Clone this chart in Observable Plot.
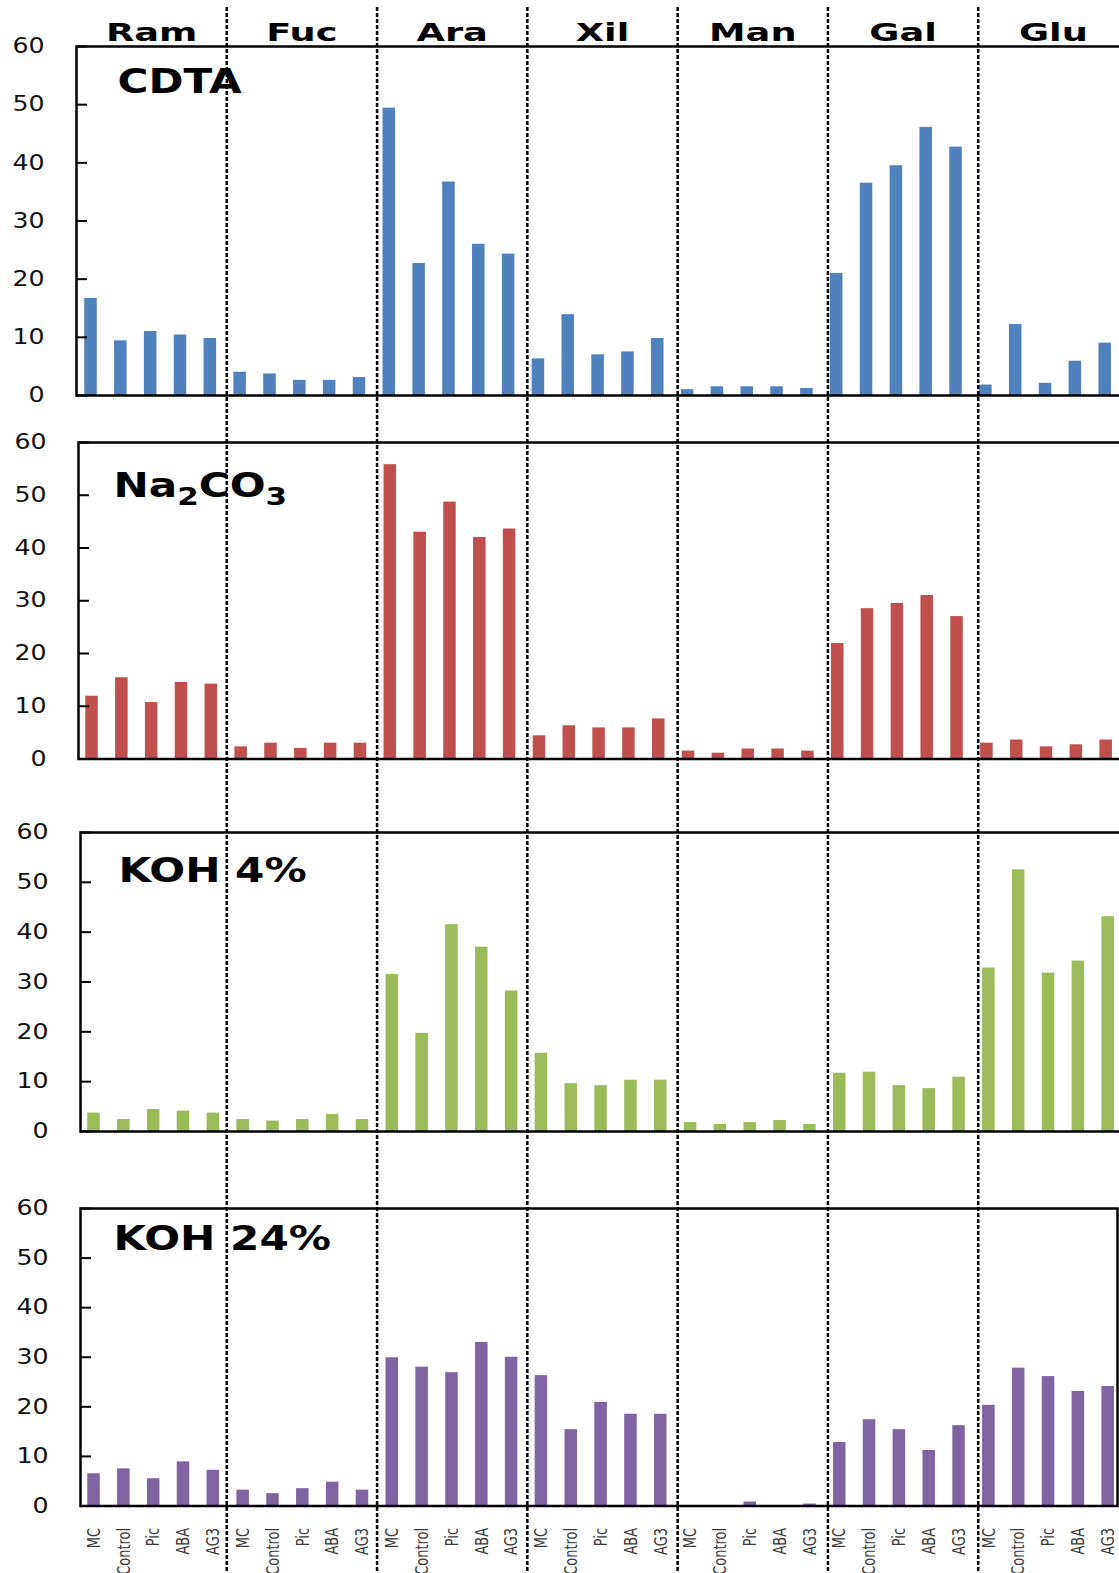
<!DOCTYPE html>
<html>
<head>
<meta charset="utf-8">
<script src="https://cdn.jsdelivr.net/npm/d3@7"></script>
<script src="https://cdn.jsdelivr.net/npm/@observablehq/plot@0.6"></script>
<style>
html, body { margin: 0; padding: 0; background: #fff; }
#chart { position: relative; width: 1119px; height: 1573px; overflow: hidden; background: #fff; }
#chart svg { position: absolute; left: 0; }
</style>
</head>
<body>
<div id="chart"></div>
<script>
// ---- data ----
const sugars = ["Ram", "Fuc", "Ara", "Xil", "Man", "Gal", "Glu"];
const treatments = ["MC", "Control", "Pic", "ABA", "AG3"];
const yTicks = [0, 10, 20, 30, 40, 50, 60];

const cdtaValues = [
  [16.7, 9.4, 11.0, 10.4, 9.8],
  [4.0, 3.7, 2.6, 2.6, 3.1],
  [49.4, 22.7, 36.7, 26.0, 24.3],
  [6.3, 13.9, 7.0, 7.5, 9.8],
  [1.0, 1.5, 1.5, 1.5, 1.2],
  [21.0, 36.5, 39.5, 46.1, 42.7],
  [1.8, 12.2, 2.1, 5.9, 9.0]
];
const na2co3Values = [
  [11.9, 15.4, 10.7, 14.5, 14.2],
  [2.3, 3.0, 2.0, 3.0, 3.0],
  [55.8, 43.0, 48.7, 42.0, 43.6],
  [4.4, 6.3, 5.9, 5.9, 7.6],
  [1.5, 1.1, 1.9, 1.9, 1.5],
  [21.9, 28.5, 29.5, 31.0, 27.0],
  [3.0, 3.6, 2.3, 2.7, 3.6]
];
const koh4Values = [
  [3.7, 2.4, 4.4, 4.1, 3.7],
  [2.4, 2.1, 2.4, 3.4, 2.4],
  [31.5, 19.7, 41.5, 37.0, 28.2],
  [15.7, 9.6, 9.2, 10.3, 10.3],
  [1.8, 1.4, 1.8, 2.2, 1.4],
  [11.7, 11.9, 9.2, 8.6, 10.9],
  [32.8, 52.5, 31.8, 34.2, 43.1]
];
const koh24Values = [
  [6.5, 7.5, 5.5, 8.9, 7.2],
  [3.2, 2.5, 3.5, 4.8, 3.2],
  [29.9, 28.0, 26.9, 33.0, 30.0],
  [26.3, 15.4, 20.9, 18.5, 18.5],
  [0, 0, 0.8, 0, 0.4],
  [12.8, 17.4, 15.4, 11.2, 16.2],
  [20.3, 27.8, 26.1, 23.1, 24.1]
];

const panelTitles = ["CDTA", "Na\u2082CO\u2083", "KOH 4%", "KOH 24%"];
const panelValues = [cdtaValues, na2co3Values, koh4Values, koh24Values];
const panelColors = ["#4F81BD", "#C0504D", "#9BBB59", "#8064A2"];

// ---- layout (styling only) ----
const layout = [
  {top60: 46,    zero: 395,    left: 76, shift: 0, titleDx: 41, titleDy: 46,   border: false},
  {top60: 441.5, zero: 758,    left: 78, shift: 1, titleDx: 35, titleDy: 54.5, border: false},
  {top60: 831.5, zero: 1130.5, left: 80, shift: 3, titleDx: 38, titleDy: 49.5, border: false},
  {top60: 1207.5, zero: 1505,  left: 80, shift: 3, titleDx: 33, titleDy: 41.5, border: true, right: 1117}
];
const W = 1119, H = 1573;
const keys = sugars.flatMap(s => treatments.map(t => s + "|" + t));
const SVGNS = "http://www.w3.org/2000/svg";

function stretch(svg, selector, factor) {
  svg.querySelectorAll(selector).forEach(t => {
    const l = t.getComputedTextLength();
    if (l > 0) {
      t.setAttribute("textLength", (l * factor).toFixed(1));
      t.setAttribute("lengthAdjust", "spacingAndGlyphs");
    }
  });
}

// turn unicode subscript digits into real lowered tspans
function subscripts(svg) {
  const subRe = /[\u2080-\u2089]/;
  svg.querySelectorAll("[aria-label='text'] text").forEach(t => {
    const s = t.textContent;
    if (!subRe.test(s)) return;
    const parts = s.match(/[\u2080-\u2089]+|[^\u2080-\u2089]+/g);
    t.textContent = "";
    let lowered = false;
    parts.forEach(p => {
      const ts = document.createElementNS(SVGNS, "tspan");
      if (subRe.test(p)) {
        ts.textContent = [...p].map(c => String(c.charCodeAt(0) - 0x2080)).join("");
        ts.setAttribute("font-size", "25");
        ts.setAttribute("dy", "8");
        lowered = true;
      } else {
        ts.textContent = p;
        if (lowered) { ts.setAttribute("dy", "-8"); lowered = false; }
      }
      t.appendChild(ts);
    });
  });
}

const chart = document.getElementById("chart");

panelTitles.forEach((title, pi) => {
  const L = layout[pi];
  const rows = sugars.flatMap((s, g) => treatments.map((t, k) => ({
    key: s + "|" + t, sugar: s, treatment: t, value: panelValues[pi][g][k]
  })));
  const last = pi === panelTitles.length - 1;
  const mt = 12;
  const mb = last ? (H - L.zero) : 6;
  const h = (L.zero - L.top60) + mt + mb;
  const marks = [
    Plot.barY(rows, {x: "key", y: "value", fill: panelColors[pi]}),
    Plot.frame({stroke: "#000", strokeWidth: 2.5}),
    Plot.axisY(yTicks, {tickSize: 0, tickPadding: 32, fontSize: 21, color: "#111",
      fontFamily: "DejaVu Sans", label: null}),
    Plot.axisY(yTicks, {tickSize: -11, tickFormat: () => "", strokeWidth: 2, color: "#000", label: null}),
    Plot.text([title], {frameAnchor: "top-left", dx: L.titleDx, dy: L.titleDy, textAnchor: "start",
      lineAnchor: "bottom", fontSize: 34, fontWeight: "bold", fill: "#000", fontFamily: "DejaVu Sans"})
  ];
  if (last) {
    marks.push(Plot.axisX({tickSize: 0, tickRotate: -90, tickPadding: 22, textAnchor: "end",
      tickFormat: d => d.split("|")[1], fontSize: 18, color: "#3a3a3a", label: null,
      fontFamily: "'Liberation Sans Narrow', 'DejaVu Sans Condensed', 'Liberation Sans', sans-serif"}));
  }
  const svg = Plot.plot({
    width: W, height: h,
    marginTop: mt, marginBottom: mb, marginLeft: L.left,
    marginRight: L.border ? W - L.right : -4,
    style: {background: "transparent", overflow: "visible", fontFamily: "DejaVu Sans"},
    x: {type: "band", domain: keys, range: [75.6 + L.shift, 1119.6 + L.shift], round: false,
        paddingInner: 0.58, paddingOuter: 0.29, align: 0.5, axis: null},
    y: {domain: [0, 60], axis: null},
    marks
  });
  svg.style.top = (L.top60 - mt) + "px";
  chart.appendChild(svg);
  subscripts(svg);
  stretch(svg, "[aria-label='y-axis tick label'] text", 1.2);
  stretch(svg, "[aria-label='x-axis tick label'] text", 0.8);
  stretch(svg, "[aria-label='text'] text", 1.24);
});

// overlay: group separators and sugar labels
const overlay = Plot.plot({
  width: W, height: H,
  marginTop: 7, marginBottom: 0, marginLeft: 0, marginRight: 0,
  style: {background: "transparent", overflow: "visible", fontFamily: "DejaVu Sans"},
  x: {domain: [0, sugars.length], range: [76, 1128], axis: null},
  marks: [
    Plot.ruleX(d3.range(1, sugars.length), {stroke: "#000", strokeWidth: 2.5, strokeDasharray: "4,2"}),
    Plot.text(sugars, {x: (d, i) => i + 0.5, frameAnchor: "top", dy: 33, lineAnchor: "bottom",
      fontSize: 25, fontWeight: "bold", fill: "#000", fontFamily: "DejaVu Sans"})
  ]
});
overlay.style.top = "0px";
chart.appendChild(overlay);
stretch(overlay, "[aria-label='text'] text", 1.47);
</script>
</body>
</html>
